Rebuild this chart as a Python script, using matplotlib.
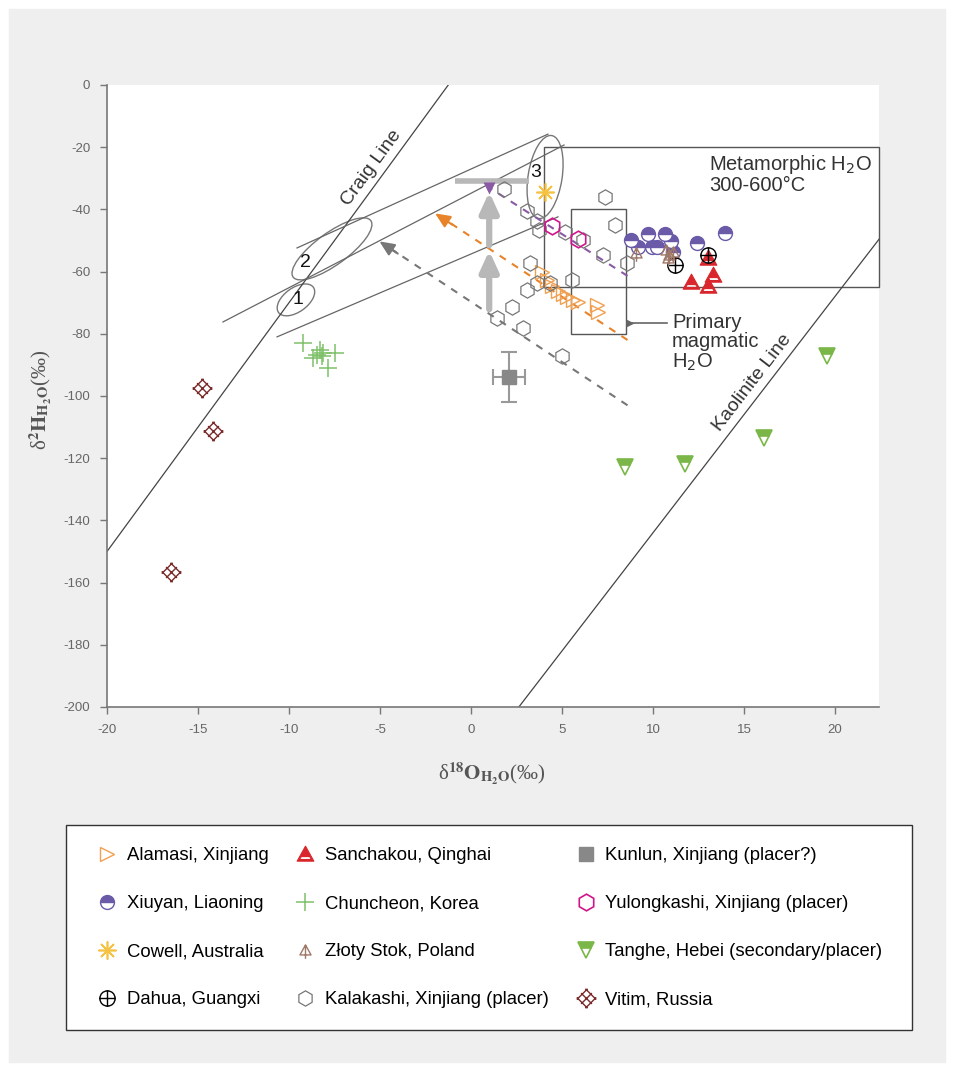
import numpy as np
import matplotlib
matplotlib.use('Agg')
import matplotlib.pyplot as plt
from matplotlib.path import Path
from matplotlib.patches import Ellipse, Rectangle
from matplotlib.transforms import ScaledTranslation

plt.rcParams['font.family'] = ['Liberation Sans', 'DejaVu Sans']
plt.rcParams['axes.unicode_minus'] = False

# --- data (d18O, d2H) ---
alamasi_x = [3.9, 4.2, 4.45, 4.8, 5.05, 5.3, 5.6, 5.9, 6.9, 7.0]
alamasi_y = [-60.1, -62.7, -64.6, -66.2, -67.2, -68.2, -69.1, -69.8, -70.7, -73.0]

xiuyan_x = [8.8, 9.2, 9.95, 9.7, 10.65, 11.0, 10.2, 12.4, 13.95, 11.1]
xiuyan_y = [-49.8, -52.1, -52.1, -47.9, -47.9, -50.2, -52.1, -50.8, -47.6, -53.7]

cowell_x = [4.07]
cowell_y = [-34.4]

dahua_x = [11.2, 13.0]
dahua_y = [-57.9, -54.7]

sanchakou_x = [13.0, 12.1, 13.3, 13.0]
sanchakou_y = [-55.6, -63.3, -61.1, -64.6]

chuncheon_x = [-9.23, -8.3, -8.13, -8.46, -8.68, -7.47, -7.86, -8.2]
chuncheon_y = [-83.0, -85.2, -86.2, -86.8, -87.8, -86.2, -91.0, -87.1]

zloty_x = [9.07, 10.7, 10.9, 11.1, 10.8]
zloty_y = [-54.0, -53.0, -54.7, -53.7, -55.6]

kalakashi_x = [1.81, 7.36, 3.08, 3.63, 3.74, 5.16, 6.15, 7.25, 7.91, 3.24,
               3.63, 3.08, 4.34, 5.55, 2.25, 1.43, 2.86, 5.0, 8.57]
kalakashi_y = [-33.4, -36.0, -40.5, -43.7, -46.6, -47.3, -49.8, -54.7, -45.0, -57.2,
               -63.7, -65.9, -63.7, -62.7, -71.4, -74.9, -78.1, -87.1, -57.2]

kunlun_x = [2.09]
kunlun_y = [-93.9]
kunlun_xerr = [0.9]
kunlun_yerr = [8.0]

yulong_x = [4.45, 5.88]
yulong_y = [-45.3, -49.5]

tanghe_x = [8.46, 11.76, 16.1, 19.56]
tanghe_y = [-122.8, -121.9, -113.5, -87.1]

vitim_x = [-14.8, -14.2, -16.5]
vitim_y = [-97.4, -111.3, -156.6]

# --- custom markers ---
tri_out = [(-1, -0.8), (1, -0.8), (0, 1), (-1, -0.8)]
stripe = [(-0.5, -0.25), (0.5, -0.25), (0.72, -0.6), (-0.72, -0.6), (-0.5, -0.25)]
sanchakou_marker = Path(tri_out + stripe,
                        [Path.MOVETO, Path.LINETO, Path.LINETO, Path.CLOSEPOLY,
                         Path.MOVETO, Path.LINETO, Path.LINETO, Path.LINETO, Path.CLOSEPOLY])

zloty_marker = Path([(-1, -0.8), (1, -0.8), (0, 1), (-1, -0.8), (0, 1), (0, -1.5)],
                    [Path.MOVETO, Path.LINETO, Path.LINETO, Path.CLOSEPOLY, Path.MOVETO, Path.LINETO])

dahua_marker = Path.make_compound_path(
    Path.unit_circle(),
    Path([(-1, 0), (1, 0)], [Path.MOVETO, Path.LINETO]),
    Path([(0, -1), (0, 1)], [Path.MOVETO, Path.LINETO]))

# crossed diamond lattice
lat_v, lat_c = [], []
for c in (-1, 0, 1):
    for (u0, v0, u1, v1) in ((c, -1.25, c, 1.25), (-1.25, c, 1.25, c)):
        lat_v += [((u0 - v0) / 2, (u0 + v0) / 2), ((u1 - v1) / 2, (u1 + v1) / 2)]
        lat_c += [Path.MOVETO, Path.LINETO]
vitim_marker = Path(lat_v, lat_c)

fig = plt.figure(figsize=(9.54, 10.65), dpi=100)
fig.patches.append(Rectangle((0.0095, 0.003), 0.981, 0.989, transform=fig.transFigure,
                             color='#efefef', zorder=-10))
ax = fig.add_axes([0.1122, 0.3362, 0.8092, 0.584])
ax.set_xlim(-20, 22.42)
ax.set_ylim(-200, 0)

# reference lines
ax.plot([-20, -1.25], [-150, 0], color='#444444', lw=0.9)
ax.plot([2.63, 22.42], [-200, 7.6 * 22.42 - 220], color='#444444', lw=0.9)
ax.plot([-9.56, 4.23], [-52.4, -15.8], color='#666666', lw=0.9)
ax.plot([-13.63, 5.11], [-76.2, -19.3], color='#666666', lw=0.9)
ax.plot([-10.66, 4.78], [-81.0, -42.4], color='#666666', lw=0.9)

ax.add_patch(Rectangle((4, -65), 22.42 - 4, 45, fill=False, ec='#555555', lw=1, clip_on=False))
ax.add_patch(Rectangle((5.5, -80), 3, 40, fill=False, ec='#555555', lw=1))

# ellipses (sizes in inches)
for cx, cy, w, h, ang in [(-9.62, -69.1, 0.43, 0.24, 36), (-7.64, -52.7, 0.96, 0.32, 36),
                          (4.07, -29.6, 0.84, 0.34, 81)]:
    ax.add_patch(Ellipse((0, 0), w, h, angle=ang, fill=False, ec='#777777', lw=1,
                         transform=fig.dpi_scale_trans + ScaledTranslation(cx, cy, ax.transData)))
for tx, ty, s in [(-9.5, -69.1, '1'), (-9.12, -57.2, '2'), (3.57, -28.0, '3')]:
    ax.text(tx, ty, s, fontsize=14, ha='center', va='center', color='#111111')

# dashed trend arrows
ds = (0, (3.5, 3.5))
ax.plot([8.6, 1.0], [-61.4, -33.0], color='#8a5aa5', lw=1.5, ls=ds)
ax.plot([8.6, -1.5], [-82.0, -43.0], color='#e8832a', lw=1.5, ls=ds)
ax.annotate('', xy=(-2.1, -40.8), xytext=(-0.9, -45.4),
            arrowprops=dict(arrowstyle='-|>,head_length=0.9,head_width=0.4', color='#e8832a', lw=1.5))
ax.plot([8.6, -4.5], [-103.0, -52.3], color='#777777', lw=1.5, ls=ds)
ax.annotate('', xy=(-5.16, -49.8), xytext=(-3.9, -54.7),
            arrowprops=dict(arrowstyle='-|>,head_length=0.9,head_width=0.4', color='#777777', lw=1.5))

# thick grey arrows
ax.plot([-0.9, 3.2], [-31, -31], color='#b8b8b8', lw=4, solid_capstyle='butt')
ax.annotate('', xy=(1, -52.4), xytext=(1, -73),
            arrowprops=dict(arrowstyle='-|>,head_length=1.2,head_width=0.55', color='#b8b8b8', lw=4.5))
ax.annotate('', xy=(1, -33.5), xytext=(1, -52.4),
            arrowprops=dict(arrowstyle='-|>,head_length=1.2,head_width=0.55', color='#b8b8b8', lw=4.5))
ax.plot([1.0], [-33.0], marker='v', color='#8a5aa5', ms=9, mec='none')

# primary magmatic pointer
ax.plot([8.55, 10.75], [-76.5, -76.5], color='#666666', lw=1.2)
ax.plot([8.75], [-76.5], marker='>', color='#666666', ms=6, mec='none')

# data series
h_alamasi, = ax.plot(alamasi_x, alamasi_y, ls='none', marker='>', ms=10, mfc='none',
                     mec='#f0a050', mew=1, label='Alamasi, Xinjiang')
h_kal, = ax.plot(kalakashi_x, kalakashi_y, ls='none', marker='h', ms=11, mfc='none',
                 mec='#777777', mew=0.9, label='Kalakashi, Xinjiang (placer)')
h_xiuyan, = ax.plot(xiuyan_x, xiuyan_y, ls='none', marker='o', ms=10, fillstyle='top',
                    mfc='#6a5aa8', mfcalt='white', mec='#6a5aa8', mew=1, label='Xiuyan, Liaoning')
h_cowell, = ax.plot(cowell_x, cowell_y, ls='none', marker=(8, 2, 0), ms=13, mec='#f5c242',
                    mew=1.2, label='Cowell, Australia')
h_sanch, = ax.plot(sanchakou_x, sanchakou_y, ls='none', marker=sanchakou_marker, ms=12,
                   mfc='#d9262c', mec='#d9262c', mew=0.8, label='Sanchakou, Qinghai')
h_dahua, = ax.plot(dahua_x, dahua_y, ls='none', marker=dahua_marker, ms=11, mfc='none',
                   mec='black', mew=1, label='Dahua, Guangxi')
h_chun, = ax.plot(chuncheon_x, chuncheon_y, ls='none', marker='+', ms=13, mec='#7ec06a',
                  mew=1.1, label='Chuncheon, Korea')
h_zloty, = ax.plot(zloty_x, zloty_y, ls='none', marker=zloty_marker, ms=12, mfc='none',
                   mec='#a07868', mew=1, label='Złoty Stok, Poland')
ax.errorbar(kunlun_x, kunlun_y, xerr=kunlun_xerr, yerr=kunlun_yerr, fmt='none',
            ecolor='#999999', elinewidth=1.5, capsize=6, capthick=1.5)
h_kun, = ax.plot(kunlun_x, kunlun_y, ls='none', marker='s', ms=10, color='#888888',
                 label='Kunlun, Xinjiang (placer?)')
h_yul, = ax.plot(yulong_x, yulong_y, ls='none', marker='h', ms=12, mfc='none',
                 mec='#d0148c', mew=1.2, label='Yulongkashi, Xinjiang (placer)')
h_tan, = ax.plot(tanghe_x, tanghe_y, ls='none', marker='v', ms=12, fillstyle='top',
                 mfc='#7ab648', mfcalt='white', mec='#7ab648', mew=1.2,
                 label='Tanghe, Hebei (secondary/placer)')
h_vit, = ax.plot(vitim_x, vitim_y, ls='none', marker=vitim_marker, ms=14, mec='#7a2a2a',
                 mew=1.0, label='Vitim, Russia')

# line labels
def line_angle(p, q):
    a = ax.transData.transform(p)
    b = ax.transData.transform(q)
    return np.degrees(np.arctan2(b[1] - a[1], b[0] - a[0]))

ax.text(-5.44, -26.7, 'Craig Line', fontsize=14, color='#333333', ha='center', va='center',
        rotation=line_angle((-20, -150), (-1.25, 0)), rotation_mode='anchor')
ax.text(15.44, -95.8, 'Kaolinite Line', fontsize=14, color='#333333', ha='center', va='center',
        rotation=line_angle((2.63, -200), (22.42, 7.6 * 22.42 - 220)), rotation_mode='anchor')
ax.text(13.08, -22.0, 'Metamorphic H$_2$O\n300-600°C', fontsize=14.5, color='#333333',
        ha='left', va='top', linespacing=0.95, math_fontfamily='dejavusans')
ax.text(11.04, -73.2, 'Primary\nmagmatic\nH$_2$O', fontsize=14.5, color='#333333',
        ha='left', va='top', linespacing=1.05, math_fontfamily='dejavusans')

# axes styling
for s in ('top', 'right'):
    ax.spines[s].set_visible(False)
for s in ('left', 'bottom'):
    ax.spines[s].set_color('#777777')
    ax.spines[s].set_linewidth(1.2)
ax.set_xticks(np.arange(-20, 21, 5))
ax.set_yticks(np.arange(-200, 1, 20))
ax.tick_params(direction='out', length=5, width=1, colors='#777777', labelcolor='#666666',
               labelsize=9.5, pad=7)

ax.set_xlabel(r'δ$^{\mathbf{18}}\mathbf{O}_{\mathbf{H_2O}}$(‰)', fontsize=15, color='#555555',
              math_fontfamily='stix', family='Liberation Serif')
ax.set_ylabel(r'δ$^{\mathbf{2}}\mathbf{H}_{\mathbf{H_2O}}$(‰)', fontsize=15, color='#555555',
              math_fontfamily='stix', family='Liberation Serif')
ax.xaxis.set_label_coords(0.499, -0.085)
ax.yaxis.set_label_coords(-0.07, 0.494)

# legend: frame drawn separately
fig.patches.append(Rectangle((66 / 954, 1 - 1030 / 1065), 846 / 954, 205 / 1065,
                             transform=fig.transFigure, fc='white', ec='#333333', lw=1.0, zorder=-5))
handles = [h_alamasi, h_xiuyan, h_cowell, h_dahua,
           h_sanch, h_chun, h_zloty, h_kal,
           h_kun, h_yul, h_tan, h_vit]
leg = fig.legend(handles=handles, labels=[h.get_label() for h in handles], ncol=3,
                 loc='upper left', bbox_to_anchor=(99 / 954, 1 - 847 / 1065),
                 fontsize=13.3, frameon=False, borderpad=0, borderaxespad=0,
                 labelspacing=1.68, handlelength=0.9, handletextpad=0.6, columnspacing=1.55)

fig.savefig('out.png', dpi=100, facecolor='white')
